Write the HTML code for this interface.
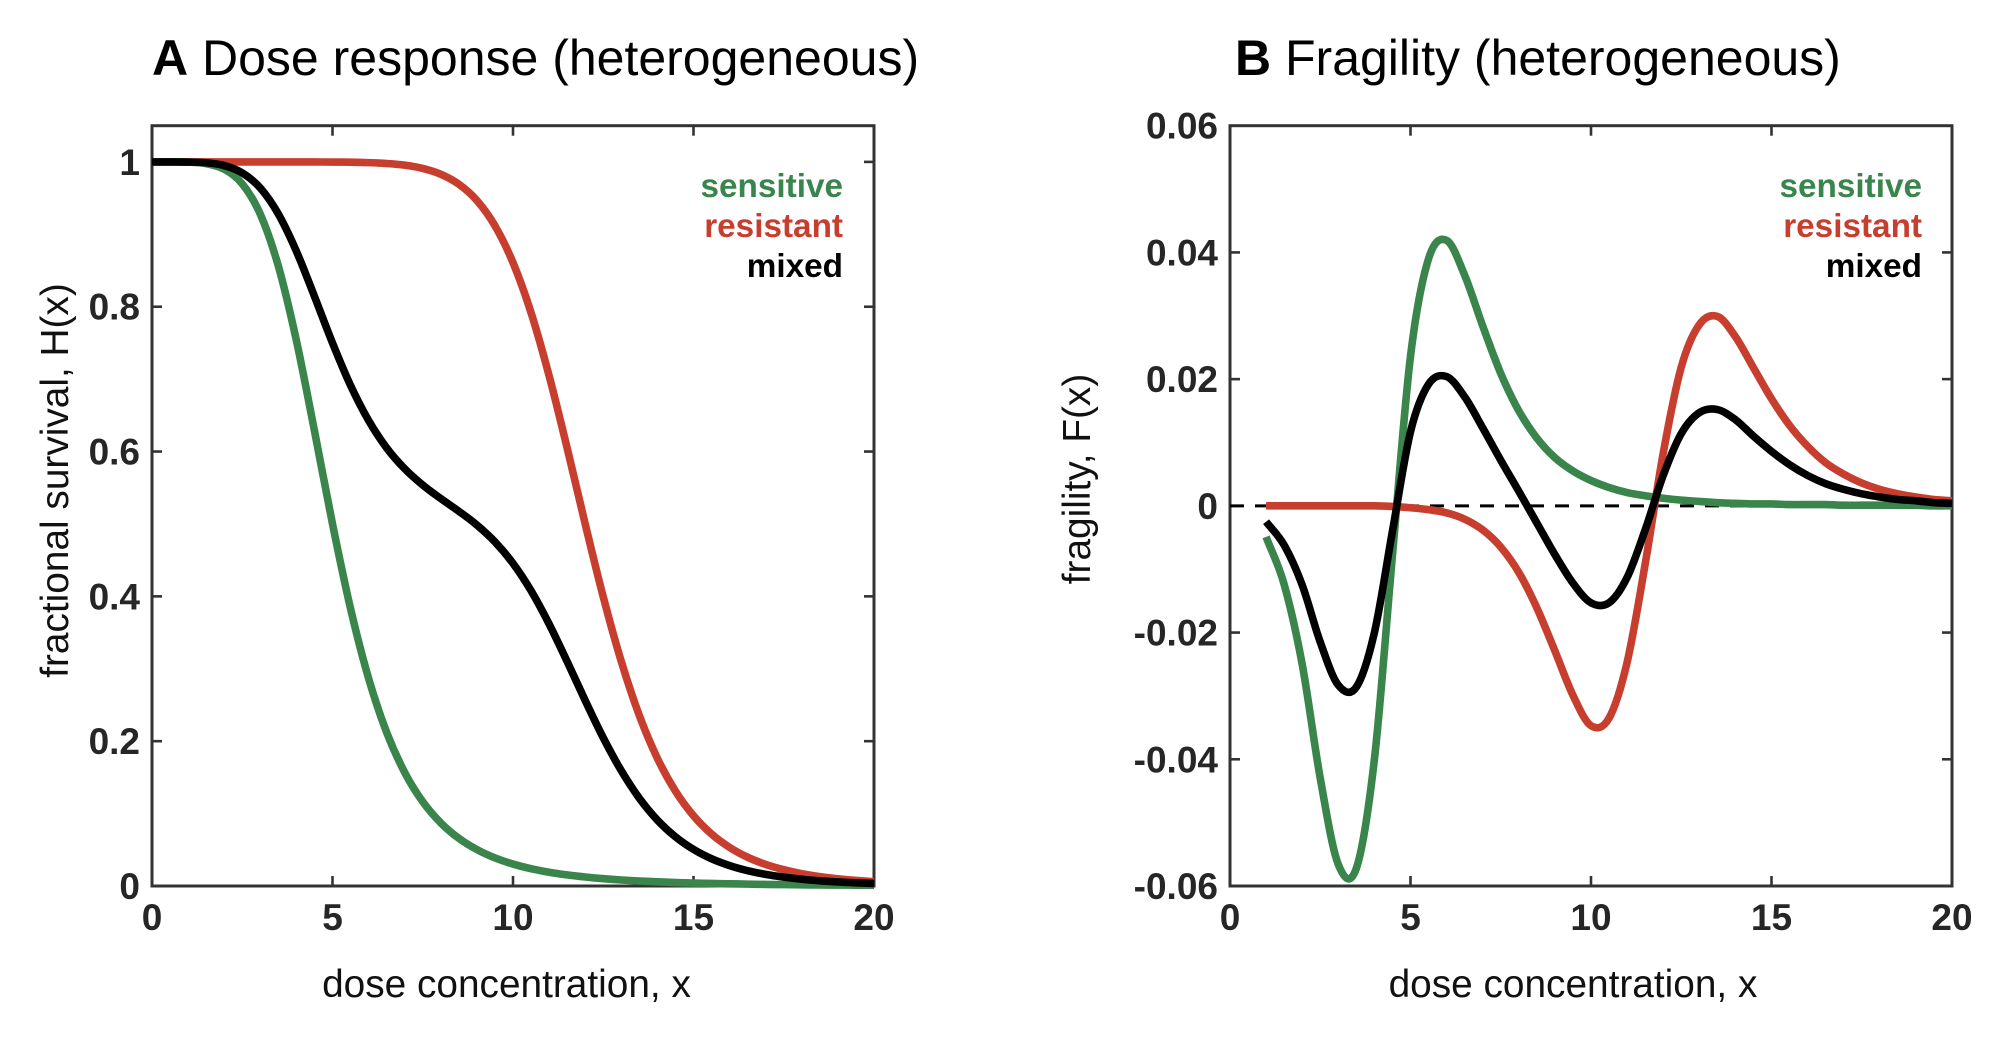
<!DOCTYPE html>
<html>
<head>
<meta charset="utf-8">
<title>Dose response and fragility</title>
<style>
html,body{margin:0;padding:0;background:#fff;}
svg{display:block;}
text{font-family:"Liberation Sans",Arial,sans-serif;}
.tick{font-size:37px;font-weight:bold;fill:#262626;}
.axis{font-size:38.8px;fill:#111;}
.title{font-size:50px;fill:#000;}
.leg{font-size:33.3px;font-weight:bold;text-anchor:end;}
</style>
</head>
<body>
<svg id="fig" xmlns="http://www.w3.org/2000/svg" width="2010" height="1046" viewBox="0 0 2010 1046">
  <rect width="2010" height="1046" fill="#fff"/>
  <text class="title" x="152" y="75"><tspan font-weight="bold">A</tspan> Dose response (heterogeneous)</text>
  <text class="title" x="1235" y="75"><tspan font-weight="bold">B</tspan> Fragility (heterogeneous)</text>
  <text class="axis" x="506.5" y="997" text-anchor="middle">dose concentration, x</text>
  <text class="axis" x="1573" y="997" text-anchor="middle">dose concentration, x</text>
  <text class="axis" transform="translate(68,480.5) rotate(-90)" text-anchor="middle">fractional survival, H(x)</text>
  <text class="axis" transform="translate(1090,479) rotate(-90)" text-anchor="middle">fragility, F(x)</text>
  <g id="panelA"></g>
  <g id="panelB"></g>
  <text class="leg" x="847.5" y="197" fill="#3a854c" transform="translate(-4.5,0)">sensitive</text>
  <text class="leg" x="847.5" y="237" fill="#c73e2e" transform="translate(-4.5,0)">resistant</text>
  <text class="leg" x="847.5" y="277" fill="#000" transform="translate(-4.5,0)">mixed</text>
  <text class="leg" x="1922" y="197" fill="#3a854c">sensitive</text>
  <text class="leg" x="1922" y="237" fill="#c73e2e">resistant</text>
  <text class="leg" x="1922" y="277" fill="#000">mixed</text>
</svg>
<script>
const xTickValues = [0, 5, 10, 15, 20];
const survivalTicks = [0, 0.2, 0.4, 0.6, 0.8, 1];
const survivalTickLabels = ['0', '0.2', '0.4', '0.6', '0.8', '1'];
const fragilityTicks = [-0.06, -0.04, -0.02, 0, 0.02, 0.04, 0.06];
const fragilityTickLabels = ['-0.06', '-0.04', '-0.02', '0', '0.02', '0.04', '0.06'];

const doseA = [0,0.5,1,1.5,2,2.5,3,3.5,4,4.5,5,5.5,6,6.5,7,7.5,8,8.5,9,9.5,10,10.5,11,11.5,12,12.5,13,13.5,14,14.5,15,15.5,16,16.5,17,17.5,18,18.5,19,19.5,20];
const survivalSensitive = [1,1,0.9997,0.9976,0.9899,0.9697,0.9278,0.8561,0.7532,0.6287,0.5,0.3831,0.2867,0.2122,0.1568,0.1164,0.0871,0.0658,0.0503,0.0388,0.0303,0.0239,0.019,0.0153,0.0124,0.0101,0.0083,0.0069,0.0058,0.0048,0.0041,0.0035,0.003,0.0026,0.0022,0.0019,0.0016,0.0014,0.0013,0.0011,0.001];
const survivalResistant = [1,1,1,1,1,1,1,1,1,0.9999,0.9998,0.9996,0.999,0.9978,0.9955,0.991,0.983,0.9692,0.9467,0.9118,0.8609,0.7918,0.7047,0.6048,0.5,0.3993,0.31,0.2354,0.1763,0.131,0.097,0.0718,0.0533,0.0397,0.0298,0.0225,0.017,0.013,0.01,0.0077,0.006];
const survivalMixed = [1,1,0.9998,0.9988,0.995,0.9848,0.9639,0.928,0.8766,0.8143,0.7499,0.6913,0.6429,0.605,0.5762,0.5537,0.535,0.5175,0.4985,0.4753,0.4456,0.4078,0.3618,0.31,0.2562,0.2047,0.1592,0.1212,0.091,0.0679,0.0505,0.0376,0.0282,0.0212,0.016,0.0122,0.0093,0.0072,0.0056,0.0044,0.0035];

const doseB = [1,1.5,2,2.5,3,3.5,4,4.5,5,5.5,6,6.5,7,7.5,8,8.5,9,9.5,10,10.5,11,11.5,12,12.5,13,13.5,14,14.5,15,15.5,16,16.5,17,17.5,18,18.5,19,19.5,20];
const fragilitySensitive = [-0.0049,-0.0124,-0.025,-0.043,-0.0566,-0.0572,-0.04,-0.0078,0.0236,0.039,0.0419,0.0364,0.0284,0.0209,0.015,0.0107,0.0076,0.0055,0.004,0.0029,0.0021,0.0016,0.0012,0.0009,0.0007,0.0005,0.0004,0.0003,0.0003,0.0002,0.0002,0.0002,0.0001,0.0001,0.0001,0.0001,0.0001,0,0];
const fragilityResistant = [0,0,0,0,0,0,0,-0.0001,-0.0003,-0.0006,-0.0011,-0.0021,-0.0038,-0.0065,-0.0105,-0.0161,-0.0229,-0.0299,-0.0347,-0.0335,-0.0247,-0.0092,0.0083,0.0219,0.0286,0.0299,0.0267,0.0218,0.0169,0.0127,0.0094,0.0068,0.005,0.0036,0.0026,0.0019,0.0014,0.001,0.0008];
const fragilityMixed = [-0.0025,-0.0062,-0.0125,-0.0215,-0.0283,-0.0286,-0.02,-0.004,0.0117,0.0192,0.0204,0.0172,0.0123,0.0072,0.0023,-0.0027,-0.0077,-0.0122,-0.0153,-0.0153,-0.0113,-0.0038,0.0048,0.0114,0.0147,0.0152,0.0136,0.011,0.0086,0.0065,0.0048,0.0035,0.0026,0.0019,0.0014,0.001,0.0008,0.0005,0.0004];

const GREEN = '#3a854c';
const RED = '#c73e2e';
const BLACK = '#000000';
const FRAME = '#333333';
const NS = 'http://www.w3.org/2000/svg';

function linearScale(d0, d1, r0, r1) {
  return function (v) { return r0 + (v - d0) / (d1 - d0) * (r1 - r0); };
}

const PLOT_TOP = 125.7, PLOT_BOTTOM = 886;

const xA = linearScale(0, 20, 152, 874);
const yA = linearScale(0, 1.05, PLOT_BOTTOM, PLOT_TOP);
const xB = linearScale(0, 20, 1230, 1952);
const yB = linearScale(-0.06, 0.06, PLOT_BOTTOM, PLOT_TOP);

function curvePath(xs, ys, xScale, yScale) {
  const n = xs.length;
  const tangent = function (i) {
    const a = Math.max(0, i - 1), b = Math.min(n - 1, i + 1);
    return (ys[b] - ys[a]) / (xs[b] - xs[a]);
  };
  let d = 'M' + xScale(xs[0]).toFixed(2) + ' ' + yScale(ys[0]).toFixed(2);
  for (let i = 0; i < n - 1; i++) {
    const h = xs[i + 1] - xs[i];
    const c1x = xs[i] + h / 3, c1y = ys[i] + tangent(i) * h / 3;
    const c2x = xs[i + 1] - h / 3, c2y = ys[i + 1] - tangent(i + 1) * h / 3;
    d += 'C' + xScale(c1x).toFixed(2) + ' ' + yScale(c1y).toFixed(2) + ' ' +
         xScale(c2x).toFixed(2) + ' ' + yScale(c2y).toFixed(2) + ' ' +
         xScale(xs[i + 1]).toFixed(2) + ' ' + yScale(ys[i + 1]).toFixed(2);
  }
  return d;
}

function drawAxes(group, prefix, xScale, yScale, yTicks, yLabels) {
  const left = xScale(0), right = xScale(20);

  const frame = document.createElementNS(NS, 'rect');
  
  
  frame.setAttribute('x', left);
  frame.setAttribute('y', PLOT_TOP);
  frame.setAttribute('width', right - left);
  frame.setAttribute('height', PLOT_BOTTOM - PLOT_TOP);
  frame.setAttribute('fill', 'none');
  frame.setAttribute('stroke', FRAME);
  frame.setAttribute('stroke-width', '3');
  group.appendChild(frame);

  xTickValues.forEach(function (v) {
    const px = xScale(v);
    if (v > 0 && v < 20) {
      [[PLOT_BOTTOM, PLOT_BOTTOM - 10], [PLOT_TOP, PLOT_TOP + 10]].forEach(function (seg) {
        const t = document.createElementNS(NS, 'line');
        
        
        t.setAttribute('x1', px);
        t.setAttribute('x2', px);
        t.setAttribute('y1', seg[0]);
        t.setAttribute('y2', seg[1]);
        t.setAttribute('stroke', FRAME);
        t.setAttribute('stroke-width', '2.6');
        group.appendChild(t);
      });
    }
    const label = document.createElementNS(NS, 'text');
    
    
    label.setAttribute('class', 'tick');
    label.setAttribute('x', px);
    label.setAttribute('y', 930);
    label.setAttribute('text-anchor', 'middle');
    label.textContent = String(v);
    group.appendChild(label);
  });

  yTicks.forEach(function (v, i) {
    const py = yScale(v);
    if (py > PLOT_TOP + 1 && py < PLOT_BOTTOM - 1) {
      [[left, left + 10], [right, right - 10]].forEach(function (seg) {
        const t = document.createElementNS(NS, 'line');
        
        
        t.setAttribute('x1', seg[0]);
        t.setAttribute('x2', seg[1]);
        t.setAttribute('y1', py);
        t.setAttribute('y2', py);
        t.setAttribute('stroke', FRAME);
        t.setAttribute('stroke-width', '2.6');
        group.appendChild(t);
      });
    }
    const label = document.createElementNS(NS, 'text');
    
    
    label.setAttribute('class', 'tick');
    label.setAttribute('x', left - 12);
    label.setAttribute('y', py + 13);
    label.setAttribute('text-anchor', 'end');
    label.textContent = yLabels[i];
    group.appendChild(label);
  });
}

function drawCurve(group, name, xs, ys, xScale, yScale, color) {
  const p = document.createElementNS(NS, 'path');
  
  
  p.setAttribute('d', curvePath(xs, ys, xScale, yScale));
  p.setAttribute('fill', 'none');
  p.setAttribute('stroke', color);
  p.setAttribute('stroke-width', '7.6');
  p.setAttribute('stroke-linejoin', 'round');
  group.appendChild(p);
}

const panelA = document.getElementById('panelA');
const panelB = document.getElementById('panelB');

drawAxes(panelA, 'panel-a', xA, yA, survivalTicks, survivalTickLabels);
drawCurve(panelA, 'survival-line-resistant', doseA, survivalResistant, xA, yA, RED);
drawCurve(panelA, 'survival-line-sensitive', doseA, survivalSensitive, xA, yA, GREEN);
drawCurve(panelA, 'survival-line-mixed', doseA, survivalMixed, xA, yA, BLACK);

drawAxes(panelB, 'panel-b', xB, yB, fragilityTicks, fragilityTickLabels);

const zeroLine = document.createElementNS(NS, 'line');


zeroLine.setAttribute('x1', xB(0));
zeroLine.setAttribute('x2', xB(20));
zeroLine.setAttribute('y1', yB(0));
zeroLine.setAttribute('y2', yB(0));
zeroLine.setAttribute('stroke', '#000');
zeroLine.setAttribute('stroke-width', '3');
zeroLine.setAttribute('stroke-dasharray', '14 11');
panelB.appendChild(zeroLine);

drawCurve(panelB, 'fragility-line-sensitive', doseB, fragilitySensitive, xB, yB, GREEN);
drawCurve(panelB, 'fragility-line-resistant', doseB, fragilityResistant, xB, yB, RED);
drawCurve(panelB, 'fragility-line-mixed', doseB, fragilityMixed, xB, yB, BLACK);
</script>
</body>
</html>
